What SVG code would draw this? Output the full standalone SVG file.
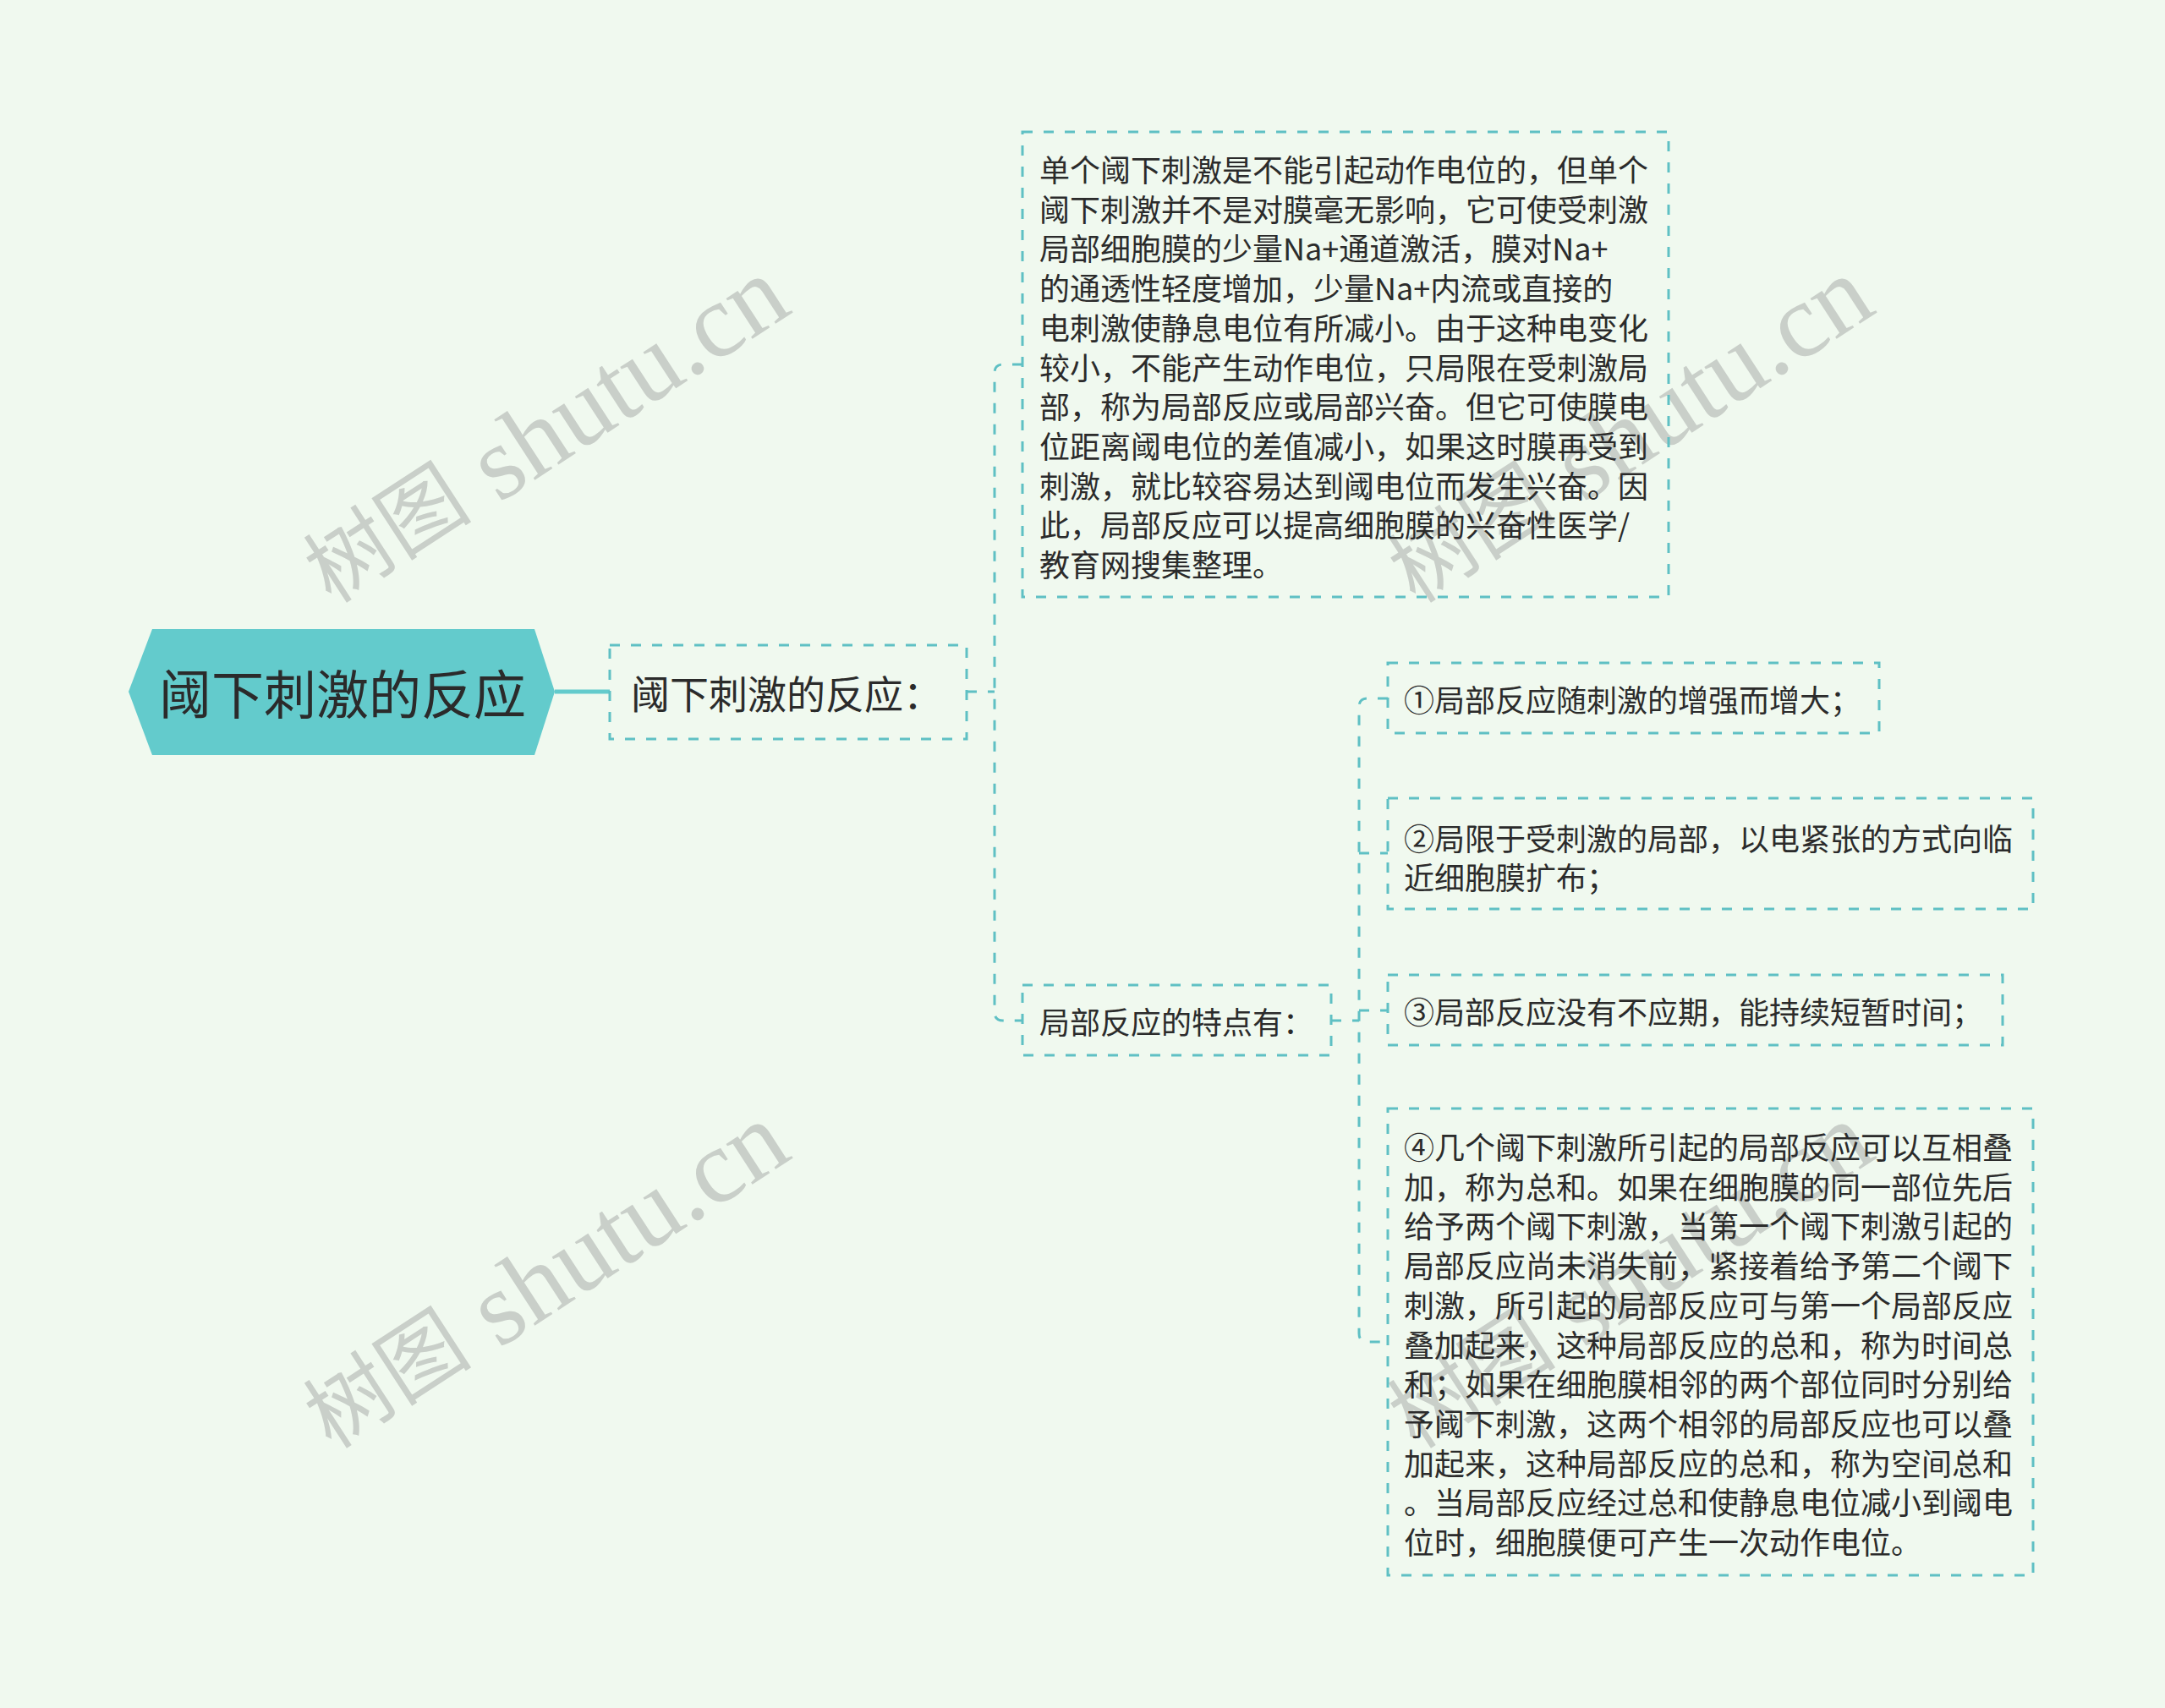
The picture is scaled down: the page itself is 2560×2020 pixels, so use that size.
<svg xmlns="http://www.w3.org/2000/svg" width="2560" height="2020" viewBox="0 0 2560 2020">
<style>
.wm{font-family:"Liberation Serif","Noto Sans CJK SC",serif;font-size:124px;fill:#C9CFC9;text-anchor:middle;dominant-baseline:central}
.wmc{font-size:100px}
.box{fill:none;stroke:#5FC0C4;stroke-width:3;stroke-dasharray:12 13}
.con{fill:none;stroke:#5FC0C4;stroke-width:3;stroke-dasharray:12 13}
.t{font-family:"Noto Sans CJK SC","Noto Sans",sans-serif;fill:#2B2B2B;dominant-baseline:central}
.t36{font-size:36px}
.t46{font-size:46px}
.t62{font-size:62px}
</style>
<rect x="0" y="0" width="2560" height="2020" fill="#F0F9EF"/>
<g id="watermarks">
<text class="wm" transform="translate(645,510) rotate(-33)"><tspan class="wmc">树图</tspan> shutu.cn</text>
<text class="wm" transform="translate(1927,510) rotate(-33)"><tspan class="wmc">树图</tspan> shutu.cn</text>
<text class="wm" transform="translate(645,1510) rotate(-33)"><tspan class="wmc">树图</tspan> shutu.cn</text>
<text class="wm" transform="translate(1927,1510) rotate(-33)"><tspan class="wmc">树图</tspan> shutu.cn</text>
</g>
<g id="connectors">
<line x1="656" y1="818" x2="721" y2="818" stroke="#63CBCC" stroke-width="5"/>
<path class="con" d="M1143,818 H1176"/>
<path class="con" d="M1209,431 H1186 Q1176,431 1176,441 V1197 Q1176,1207 1186,1207 H1209"/>
<path class="con" d="M1574,1207 H1607"/>
<path class="con" d="M1641,826 H1617 Q1607,826 1607,836 V1577 Q1607,1587 1617,1587 H1641"/>
<path class="con" d="M1607,1009 H1641"/>
<path class="con" d="M1607,1195 H1641"/>
</g>
<g id="root">
<polygon points="152,818 180,744 632,744 656,818 632,893 180,893" fill="#63CBCC"/>
<text class="t t62" x="188" y="818">阈下刺激的反应</text>
</g>
<g id="n1">
<rect class="box" x="721" y="763" width="422" height="111"/>
<text class="t t46" x="746" y="818">阈下刺激的反应：</text>
</g>
<g id="n2">
<rect class="box" x="1209" y="156" width="764" height="550"/>
<text class="t t36" x="1229">
<tspan x="1229" y="199">单个阈下刺激是不能引起动作电位的，但单个</tspan>
<tspan x="1229" y="245.7">阈下刺激并不是对膜毫无影响，它可使受刺激</tspan>
<tspan x="1229" y="292.4">局部细胞膜的少量Na+通道激活，膜对Na+</tspan>
<tspan x="1229" y="339.1">的通透性轻度增加，少量Na+内流或直接的</tspan>
<tspan x="1229" y="385.8">电刺激使静息电位有所减小。由于这种电变化</tspan>
<tspan x="1229" y="432.5">较小，不能产生动作电位，只局限在受刺激局</tspan>
<tspan x="1229" y="479.2">部，称为局部反应或局部兴奋。但它可使膜电</tspan>
<tspan x="1229" y="525.9">位距离阈电位的差值减小，如果这时膜再受到</tspan>
<tspan x="1229" y="572.6">刺激，就比较容易达到阈电位而发生兴奋。因</tspan>
<tspan x="1229" y="619.3">此，局部反应可以提高细胞膜的兴奋性医学/</tspan>
<tspan x="1229" y="666">教育网搜集整理。</tspan>
</text>
</g>
<g id="n3">
<rect class="box" x="1209" y="1165" width="365" height="83"/>
<text class="t t36" x="1229" y="1207">局部反应的特点有：</text>
</g>
<g id="n4">
<rect class="box" x="1641" y="784" width="581" height="83"/>
<text class="t t36" x="1660" y="826">①局部反应随刺激的增强而增大；</text>
</g>
<g id="n5">
<rect class="box" x="1641" y="944" width="763" height="131"/>
<text class="t t36"><tspan x="1660" y="990">②局限于受刺激的局部，以电紧张的方式向临</tspan><tspan x="1660" y="1036">近细胞膜扩布；</tspan></text>
</g>
<g id="n6">
<rect class="box" x="1641" y="1153" width="727" height="83"/>
<text class="t t36" x="1660" y="1195">③局部反应没有不应期，能持续短暂时间；</text>
</g>
<g id="n7">
<rect class="box" x="1641" y="1311" width="763" height="552"/>
<text class="t t36">
<tspan x="1660" y="1355">④几个阈下刺激所引起的局部反应可以互相叠</tspan>
<tspan x="1660" y="1401.7">加，称为总和。如果在细胞膜的同一部位先后</tspan>
<tspan x="1660" y="1448.4">给予两个阈下刺激，当第一个阈下刺激引起的</tspan>
<tspan x="1660" y="1495.1">局部反应尚未消失前，紧接着给予第二个阈下</tspan>
<tspan x="1660" y="1541.8">刺激，所引起的局部反应可与第一个局部反应</tspan>
<tspan x="1660" y="1588.5">叠加起来，这种局部反应的总和，称为时间总</tspan>
<tspan x="1660" y="1635.2">和；如果在细胞膜相邻的两个部位同时分别给</tspan>
<tspan x="1660" y="1681.9">予阈下刺激，这两个相邻的局部反应也可以叠</tspan>
<tspan x="1660" y="1728.6">加起来，这种局部反应的总和，称为空间总和</tspan>
<tspan x="1660" y="1775.3">。当局部反应经过总和使静息电位减小到阈电</tspan>
<tspan x="1660" y="1822">位时，细胞膜便可产生一次动作电位。</tspan>
</text>
</g>
</svg>
